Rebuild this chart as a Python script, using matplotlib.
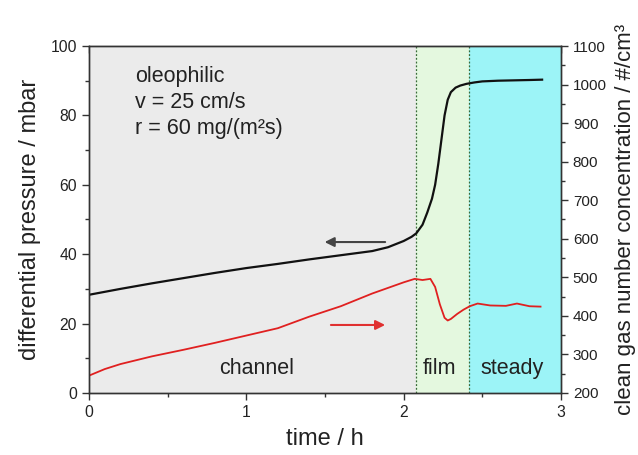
import matplotlib
matplotlib.use("Agg")
import matplotlib.pyplot as plt
from matplotlib.ticker import MultipleLocator

plt.rcParams['font.family'] = ['Liberation Sans', 'DejaVu Sans']

# differential pressure (mbar), left axis
t_dp = [0, 0.2, 0.4, 0.6, 0.8, 1.0, 1.2, 1.4, 1.6, 1.8, 1.9, 2.0, 2.05, 2.08,
        2.12, 2.15, 2.18, 2.2, 2.22, 2.24, 2.26, 2.28, 2.3, 2.33, 2.36, 2.4,
        2.45, 2.5, 2.6, 2.7, 2.8, 2.88]
dp = [28.3, 30.0, 31.6, 33.1, 34.6, 36.0, 37.2, 38.5, 39.7, 40.9, 42.0, 43.8,
      45.0, 46.0, 48.5, 52.0, 56.0, 60.0, 66.0, 73.0, 80.0, 84.5, 86.7, 88.0,
      88.6, 89.1, 89.5, 89.8, 90.0, 90.1, 90.2, 90.3]

# clean gas number concentration (#/cm3), right axis
t_cn = [0, 0.1, 0.2, 0.4, 0.6, 0.8, 1.0, 1.2, 1.4, 1.6, 1.8, 2.0, 2.07, 2.12,
        2.17, 2.2, 2.23, 2.26, 2.28, 2.3, 2.34, 2.38, 2.42, 2.47, 2.55, 2.65,
        2.72, 2.8, 2.87]
cn = [245, 262, 275, 295, 312, 330, 349, 368, 398, 425, 458, 487, 496, 493,
      496, 475, 430, 395, 388, 392, 405, 416, 425, 432, 427, 426, 432, 425, 424]

# phase boundaries (h)
t_film = 2.08
t_steady = 2.415
t_end = 3.0

fig = plt.figure(figsize=(6.38, 4.55), dpi=100)
ax = fig.add_axes([0.1395, 0.1363, 0.7398, 0.7626])
ax2 = ax.twinx()

ax.axvspan(0, t_film, color='#ebebeb', lw=0)
ax.axvspan(t_film, t_steady, color='#e4f8df', lw=0)
ax.axvspan(t_steady, t_end, color='#9cf4f7', lw=0)
for tb in (t_film, t_steady):
    ax.axvline(tb, color='#3a6a3a', ls=(0, (1.5, 1.5)), lw=0.9)

ax.plot(t_dp, dp, color='#111111', lw=1.6)
ax2.plot(t_cn, cn, color='#e02020', lw=1.3)

ax.annotate('', xy=(1.48, 43.5), xytext=(1.9, 43.5),
            arrowprops=dict(arrowstyle='-|>', color='#444444', lw=1.5,
                            mutation_scale=14))
ax.annotate('', xy=(1.9, 19.6), xytext=(1.52, 19.6),
            arrowprops=dict(arrowstyle='-|>', color='#e03030', lw=1.5,
                            mutation_scale=14))

ax.text(0.29, 94.2, 'oleophilic\nv = 25 cm/s\nr = 60 mg/(m²s)', fontsize=15.5,
        va='top', ha='left', linespacing=1.3, color='#222222')
ax.text(1.068, 7.0, 'channel', fontsize=15.5, ha='center', va='center', color='#222222')
ax.text(2.23, 7.0, 'film', fontsize=15.5, ha='center', va='center', color='#222222')
ax.text(2.687, 7.0, 'steady', fontsize=15.5, ha='center', va='center', color='#222222')

ax.set_xlim(0, 3)
ax.set_ylim(0, 100)
ax2.set_ylim(200, 1100)

ax.xaxis.set_major_locator(MultipleLocator(1))
ax.xaxis.set_minor_locator(MultipleLocator(0.5))
ax.yaxis.set_major_locator(MultipleLocator(20))
ax.yaxis.set_minor_locator(MultipleLocator(10))
ax2.yaxis.set_major_locator(MultipleLocator(100))
ax2.yaxis.set_minor_locator(MultipleLocator(50))

ax.tick_params(which='both', direction='out', labelsize=11.3, color='#333333',
               width=1.0, top=False, labelcolor='#222222')
ax.tick_params(which='major', length=5)
ax.tick_params(which='minor', length=3)
ax2.tick_params(which='both', direction='out', labelsize=11, color='#333333',
                width=1.0, labelcolor='#222222')
ax2.tick_params(which='major', length=5)
ax2.tick_params(which='minor', length=3)

sec = ax.secondary_xaxis('top')
sec.xaxis.set_major_locator(MultipleLocator(1))
sec.xaxis.set_minor_locator(MultipleLocator(0.5))
sec.tick_params(which='both', direction='in', labeltop=False, color='#333333', width=1.0)
sec.tick_params(which='major', length=5)
sec.tick_params(which='minor', length=3)

for a in (ax, ax2):
    for s in a.spines.values():
        s.set_color('#333333')
        s.set_linewidth(1.0)

ax.set_xlabel('time / h', fontsize=17, labelpad=6, color='#222222')
ax.set_ylabel('differential pressure / mbar', fontsize=17, labelpad=7, color='#222222')
ax2.set_ylabel('clean gas number concentration / #/cm³', fontsize=16, labelpad=6,
               color='#222222')

fig.savefig('out.png', dpi=100)
